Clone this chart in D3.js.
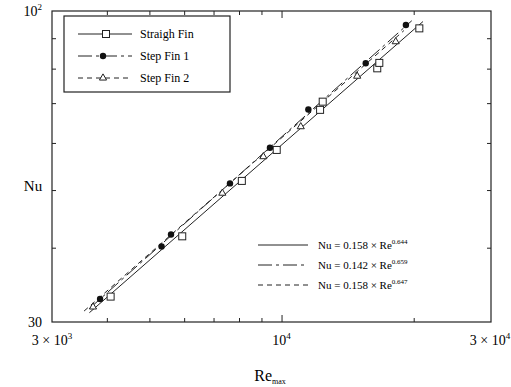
<!DOCTYPE html>
<html lang="en">
<head>
<meta charset="utf-8">
<title>Nu vs Re</title>
<script src="https://d3js.org/d3.v7.min.js"></script>
<style>
  body { margin: 0; background: #fff; }
</style>
</head>
<body>
<script>
// measured points
var straightRe = [4080, 5940, 8120, 9750, 12240, 12410, 16520, 16700, 20600];
var straightNu = [33.1, 41.8, 51.8, 58.4, 68.2, 70.4, 80.1, 81.8, 93.5];
var step1Re = [3860, 5330, 5600, 7630, 9410, 11510, 15550, 19200];
var step1Nu = [32.8, 40.2, 42.1, 51.3, 58.9, 68.3, 81.7, 94.7];
var step2Re = [3720, 7330, 9090, 11060, 14870, 18200];
var step2Nu = [31.8, 49.4, 56.9, 63.9, 77.7, 88.8];

// correlation lines (end points)
var fit1Re = [3650, 21000], fit1Nu = [31.1, 96.0];
var fit2Re = [3650, 19800], fit2Nu = [31.6, 96.3];
var fit3Re = [3550, 19000], fit3Nu = [31.3, 92.7];

var seriesNames = ["Straigh Fin", "Step Fin 1", "Step Fin 2"];
var fitLabels = [["Nu = 0.158 × Re", "0.644"], ["Nu = 0.142 × Re", "0.659"], ["Nu = 0.158 × Re", "0.647"]];

var xMinor = [4000, 5000, 6000, 7000, 8000, 9000, 20000];
var xMajor = [10000];
var yMinor = [40, 50, 60, 70, 80, 90];
var xTickVals = [3000, 10000, 30000];
var xTickLabels = [["3 × 10", "3"], ["10", "4"], ["3 × 10", "4"]];
var yTickVals = [30, 100];
var yTickLabels = [["30", ""], ["10", "2"]];

var W = 511, H = 387;
var m = {l: 52, r: 491, t: 11, b: 322};
var serif = "Liberation Serif, DejaVu Serif, serif";

var svg = d3.select("body").append("svg")
  .attr("width", W).attr("height", H)
  .attr("font-family", serif);

var x = d3.scaleLog().domain([3000, 30000]).range([m.l, m.r]);
var y = d3.scaleLog().domain([30, 100]).range([m.b, m.t]);

// frame
svg.append("rect")
  .attr("x", m.l).attr("y", m.t)
  .attr("width", m.r - m.l).attr("height", m.b - m.t)
  .attr("fill", "none").attr("stroke", "#222").attr("stroke-width", 1.2);

// inward ticks on all four sides
function ticks(axis, tr, vals, size) {
  var g = svg.append("g").attr("transform", tr)
    .call(axis.tickValues(vals).tickSize(size).tickFormat(""));
  g.select(".domain").remove();
  g.selectAll("line").attr("stroke", "#222");
}
ticks(d3.axisTop(x), "translate(0," + m.b + ")", xMinor, 4);
ticks(d3.axisTop(x), "translate(0," + m.b + ")", xMajor, 7);
ticks(d3.axisBottom(x), "translate(0," + m.t + ")", xMinor, 4);
ticks(d3.axisBottom(x), "translate(0," + m.t + ")", xMajor, 7);
ticks(d3.axisRight(y), "translate(" + m.l + ",0)", yMinor, 4);
ticks(d3.axisLeft(y), "translate(" + m.r + ",0)", yMinor, 4);

// tick labels
xTickVals.forEach(function (v, i) {
  var t = svg.append("text")
    .attr("x", x(v) + (i == 2 ? -1 : 0)).attr("y", 345)
    .attr("text-anchor", "middle").attr("font-size", 14).attr("font-family", serif);
  t.append("tspan").text(xTickLabels[i][0]);
  t.append("tspan").attr("dy", -6).attr("font-size", 9).text(xTickLabels[i][1]);
});
yTickVals.forEach(function (v, i) {
  var t = svg.append("text")
    .attr("x", 42).attr("y", y(v) + 5)
    .attr("text-anchor", "end").attr("font-size", 14).attr("font-family", serif);
  t.append("tspan").text(yTickLabels[i][0]);
  if (yTickLabels[i][1]) t.append("tspan").attr("dy", -6).attr("font-size", 9).text(yTickLabels[i][1]);
});

// axis titles
svg.append("text").attr("x", 33).attr("y", 191).attr("font-family", serif)
  .attr("text-anchor", "middle").attr("font-size", 15).text("Nu");
var xt = svg.append("text").attr("x", 270).attr("y", 381).attr("font-family", serif)
  .attr("text-anchor", "middle").attr("font-size", 16);
xt.append("tspan").text("Re");
xt.append("tspan").attr("dy", 3).attr("font-size", 8).text("max");

// correlation lines
var line = d3.line().x(function (d) { return x(d[0]); }).y(function (d) { return y(d[1]); });
var dashes = [null, "14,4,3,4", "5,4"];
[[fit1Re, fit1Nu], [fit2Re, fit2Nu], [fit3Re, fit3Nu]].forEach(function (f, i) {
  svg.append("path")
    .datum(d3.zip(f[0], f[1]))
    .attr("d", line)
    .attr("fill", "none").attr("stroke", "#222").attr("stroke-width", 1)
    .attr("stroke-dasharray", dashes[i]);
});

// markers
function square(g) {
  g.append("rect").attr("x", -3.5).attr("y", -3.5).attr("width", 7).attr("height", 7)
    .attr("fill", "#fff").attr("stroke", "#222").attr("stroke-width", 1);
}
function circle(g) {
  g.append("circle").attr("r", 3.2).attr("fill", "#111");
}
function triangle(g) {
  g.append("path").attr("d", d3.symbol(d3.symbolTriangle, 22))
    .attr("fill", "#fff").attr("stroke", "#222").attr("stroke-width", 1);
}
var markers = [square, circle, triangle];

[[straightRe, straightNu], [step1Re, step1Nu], [step2Re, step2Nu]].forEach(function (s, i) {
  svg.append("g").selectAll("g")
    .data(d3.zip(s[0], s[1]))
    .enter().append("g")
    .attr("transform", function (d) { return "translate(" + x(d[0]) + "," + y(d[1]) + ")"; })
    .each(function () { markers[i](d3.select(this)); });
});

// legend: series
var leg = svg.append("g");
leg.append("rect").attr("x", 64).attr("y", 16).attr("width", 166).attr("height", 76)
  .attr("fill", "#fff").attr("stroke", "#222").attr("stroke-width", 1.2);
seriesNames.forEach(function (n, i) {
  var yy = 34 + i * 22;
  leg.append("line").attr("x1", 78).attr("x2", 132).attr("y1", yy).attr("y2", yy)
    .attr("stroke", "#222").attr("stroke-width", 1).attr("stroke-dasharray", dashes[i]);
  var g = leg.append("g").attr("transform", "translate(" + (i == 0 ? 106 : 103) + "," + yy + ")");
  markers[i](g);
  leg.append("text").attr("x", 140).attr("y", yy + 4).attr("font-size", 12)
    .attr("font-family", serif).text(n);
});

// legend: correlations
fitLabels.forEach(function (l, i) {
  var yy = 245 + i * 20;
  svg.append("line").attr("x1", 258).attr("x2", 308).attr("y1", yy).attr("y2", yy)
    .attr("stroke", "#222").attr("stroke-width", 1).attr("stroke-dasharray", dashes[i]);
  var t = svg.append("text").attr("x", 318).attr("y", yy + 4).attr("font-size", 11)
    .attr("font-family", serif);
  t.append("tspan").text(l[0]);
  t.append("tspan").attr("dy", -5).attr("font-size", 7).text(l[1]);
});
</script>
</body>
</html>
